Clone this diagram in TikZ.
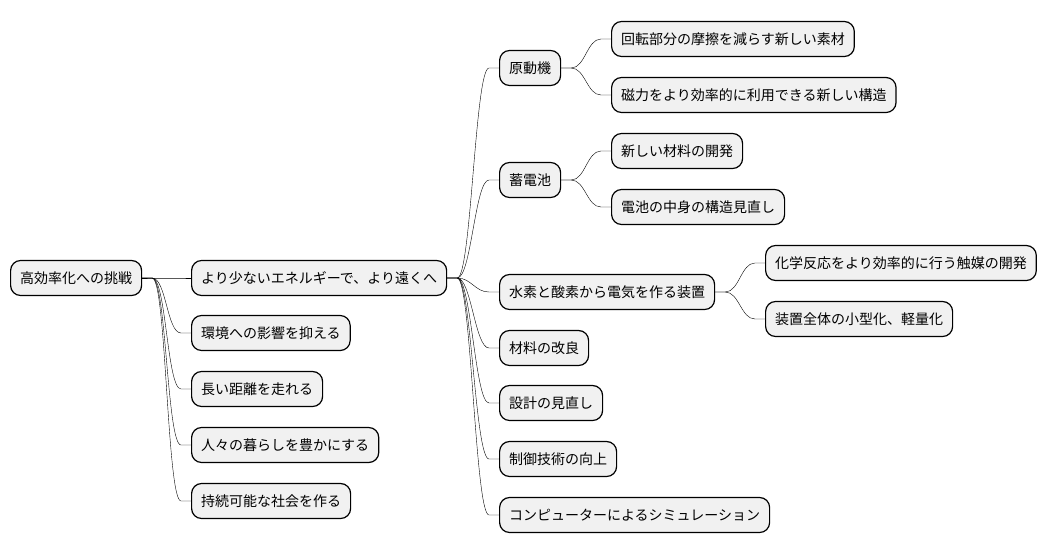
\documentclass[tikz,border=0pt]{standalone}
\usepackage{fontspec}
\setmainfont{Noto Sans CJK JP}
\definecolor{boxgray}{HTML}{F1F1F1}
% branch from parent to child
\newcommand\branch[2]{\draw (#1.east) -- ++(10,0) .. controls +(14,0) and +(-14,0) .. ([xshift=-10pt]#2.west) -- (#2.west);}
\begin{document}
\begin{tikzpicture}[x=1pt,y=-1pt,
	box/.style={draw,line width=1.2pt,rounded corners=10pt,fill=boxgray,minimum height=35pt,inner xsep=9.5pt,inner ysep=0pt,anchor=west,font=\fontsize{14pt}{16pt}\selectfont}]
	\useasboundingbox (0,0) rectangle (1048,555);
	\node[box] (R) at (10,278) {高効率化への挑戦};
	% first level
	\node[box] (G) at (191,278) {より少ないエネルギーで、より遠くへ};
	\node[box] (E) at (191,333) {環境への影響を抑える};
	\node[box] (D) at (191,389) {長い距離を走れる};
	\node[box] (P) at (191,445) {人々の暮らしを豊かにする};
	\node[box] (S) at (191,501) {持続可能な社会を作る};
	% second level
	\node[box] (M) at (499,68) {原動機};
	\node[box] (B) at (499,180) {蓄電池};
	\node[box] (F) at (499,292) {水素と酸素から電気を作る装置};
	\node[box] (G1) at (499,348) {材料の改良};
	\node[box] (G2) at (499,403) {設計の見直し};
	\node[box] (G3) at (499,459) {制御技術の向上};
	\node[box] (G4) at (499,515) {コンピューターによるシミュレーション};
	% third level
	\node[box] (M1) at (611,39) {回転部分の摩擦を減らす新しい素材};
	\node[box] (M2) at (611,95) {磁力をより効率的に利用できる新しい構造};
	\node[box] (B1) at (611,151) {新しい材料の開発};
	\node[box] (B2) at (611,207) {電池の中身の構造見直し};
	\node[box] (F1) at (765,263) {化学反応をより効率的に行う触媒の開発};
	\node[box] (F2) at (765,319) {装置全体の小型化、軽量化};
	\foreach \c in {G,E,D,P,S} {\branch{R}{\c}}
	\foreach \c in {M,B,F,G1,G2,G3,G4} {\branch{G}{\c}}
	\foreach \c in {M1,M2} {\branch{M}{\c}}
	\foreach \c in {B1,B2} {\branch{B}{\c}}
	\foreach \c in {F1,F2} {\branch{F}{\c}}
\end{tikzpicture}
\end{document}
